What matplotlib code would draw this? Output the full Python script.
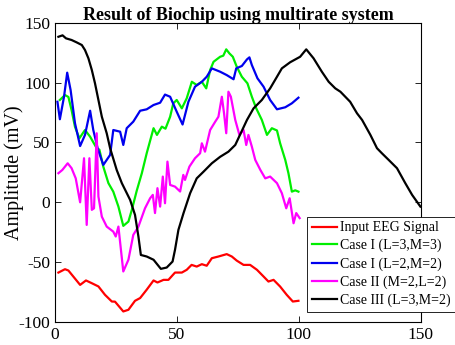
import numpy as np
import matplotlib
matplotlib.use('Agg')
import matplotlib.pyplot as plt

plt.rcParams['font.family'] = ['Liberation Serif', 'DejaVu Serif']
plt.rcParams['axes.unicode_minus'] = False

# values
eeg_x = [1.4, 4.1, 5.5, 10.3, 12.7, 15, 17.8, 20.5, 23.3, 24.6, 28, 30.1, 32.8, 34.9,
         37.6, 40.4, 42, 44.5, 46.5, 49.2, 52, 54, 56, 58.1, 60.2, 62.2, 64.3, 67,
         70.4, 72.5, 74.5, 77.3, 80, 82.8, 85.5, 87.5, 89.6, 92.3, 95, 97.5, 99.8]
eeg_y = [-58.7, -55.9, -57, -69, -65.3, -67.5, -70.3, -77.3, -82.9, -83, -91.2, -89.8,
         -82.3, -80, -73, -65.3, -67, -64.8, -64.8, -58.7, -58.7, -56.4, -52.3, -53.7,
         -51.7, -53, -46.7, -45.3, -43.3, -45.3, -48.7, -52.3, -52.3, -56.4, -62, -66.2,
         -64.8, -70.4, -77.3, -82.9, -82.3]

case1a_x = [2, 4.1, 5.5, 6.8, 8.2, 10, 12.3, 14.4, 17.1, 18.2, 19.8, 21.9, 23.9, 26, 28,
            30.1, 31.5, 33.5, 35.6, 37.6, 40.4, 41.8, 43.8, 45.3, 47.2, 48.5, 49.9, 52,
            54, 56.1, 58.1, 60.2, 62, 63.6, 65, 67.7, 69, 70.2, 71.5, 72.9, 74.5, 76.6,
            78.9, 80.7, 82.5, 84.8, 86.9, 88.9, 91, 92.3, 94.4, 95.7, 97.1, 98.5, 99.8]
case1a_y = [85.5, 89.6, 88, 77, 63, 53.5, 60.4, 54.8, 45.2, 44, 29.8, 16, 8.9, -3.6,
            -19.7, -16.1, -6.3, 9.6, 24.3, 41, 61.9, 56.3, 63.2, 61.5, 71.5, 82.7, 85.5,
            78.5, 86.9, 100.7, 98, 100.7, 95.2, 110.5, 117.4, 121.6, 122.5, 127.8, 124.4,
            121.6, 113.3, 104.9, 99.4, 88.2, 78.5, 68.8, 56.3, 61.9, 60, 49.3, 35.4, 24.3,
            8.9, 10, 8.9]

case1b_x = [1, 2, 3.7, 5, 6.4, 8.2, 10.3, 12.3, 14.4, 15.7, 17.5, 19.8, 22.6, 23.9, 26.7,
            28, 29.4, 32.1, 34.9, 37.6, 40.4, 43.1, 45.1, 47.2, 49.9, 52.3, 54.7, 57.4,
            60.2, 62.2, 64.3, 67.7, 70.4, 73.2, 74.3, 76.6, 78.7, 79.7, 80.7, 83, 85.5,
            88.2, 91, 94.4, 97.1, 99.8]
case1b_y = [84, 69.4, 88.2, 108.3, 93.8, 66, 47, 56.3, 76.5, 60.4, 45, 31.2, 39.6, 60.4,
            59, 47.9, 61.9, 67.4, 76.5, 77.7, 81.3, 83.2, 90, 88.2, 75.7, 65, 84, 96.6,
            100.7, 104.9, 111.9, 109.1, 106.3, 102.8, 111.9, 113.9, 119.4, 121.1, 114.7,
            103.6, 96.6, 85.5, 77.7, 79.4, 82.7, 87.4]

case2_x = [1.4, 3, 5.2, 6.8, 8.5, 10.3, 11.9, 13, 14.1, 15.1, 16, 17.1, 17.8, 19.2, 21.2,
           23.9, 24.9, 26, 28, 30.1, 32.1, 34.2, 36.9, 39, 40.1, 41, 42, 43.1, 44.2, 45.1,
           46.1, 47.2, 49.2, 51.3, 52.6, 53.3, 55.1, 57.4, 59.5, 60.2, 61.5, 63.6, 65.7,
           67, 68.4, 69.3, 70.2, 71.1, 72.1, 73.9, 75.6, 77.3, 78.4, 79.3, 80.7, 82.1,
           84.2, 86.2, 88.2, 91, 93, 94.8, 96.2, 97.8, 98.9, 100.3]
case2_y = [24.3, 27, 32.6, 28.5, 20, 0, 36.8, -18.9, 36.8, -6.3, -5, 57.7, 4.8, -12,
           -20.3, -24.5, -28.6, -20.3, -57.8, -48, -27.2, -20.3, -5, 3.4, 6.2, -9, 11.8,
           -3.6, 21.5, -0.8, 34, 14.5, 13.1, 9, 22.9, 18.7, 29.8, 36.8, 41, 49.3, 42.3,
           60.4, 67.4, 71.5, 88.2, 74.4, 57.7, 92.4, 88.2, 68.8, 56.3, 60.4, 47.9, 56.3,
           46.5, 35.4, 27, 20, 21.5, 16, 7.6, -5, 3.4, -17.5, -9, -13.2]

case3_x = [1.4, 3.1, 4.5, 6.8, 8.9, 11, 12.3, 13.7, 15.1, 16.4, 17.8, 19.2, 21.2, 22.6,
           25.3, 27.4, 30.8, 32.8, 34.2, 35.2, 37.6, 40.4, 43.4, 45.8, 48.2, 49.2, 50.6,
           52.7, 55.4, 58.1, 60.9, 64.3, 67.7, 71.1, 73.9, 75.3, 78.7, 81.4, 84.8, 88.2,
           91, 93, 96.4, 100.5, 103, 106, 109.4, 112.2, 114.9, 117, 121, 123.8, 125.9,
           129.3, 132, 134, 136.8, 140.2, 143.6, 146.4, 149.8]
case3_y = [138.3, 139.5, 137, 135.6, 133.6, 131.4, 127.2, 120.3, 110.5, 99.4, 85.5, 71.5,
           57.7, 45.2, 27, 16, 2, -10.5, -28.6, -44, -45.3, -48, -55.6, -54.5, -49.5,
           -39.7, -23, -9, 7.6, 20, 25.6, 32.6, 38, 42.3, 47.9, 54, 68.8, 78.5, 85.5,
           95.2, 104.9, 111.9, 117, 121.6, 127.8, 120.3, 109.1, 100.7, 95.2, 92.4, 84,
           74.4, 68.8, 56.3, 45.2, 41, 35.4, 28.5, 16, 6.2, -3.6]

labels = ['Input EEG Signal', 'Case I (L=3,M=3)', 'Case I (L=2,M=2)',
          'Case II (M=2,L=2)', 'Case III (L=3,M=2)']
colors = ['#ff0000', '#00ee00', '#0000ee', '#ff00ff', '#000000']

fig = plt.figure(figsize=(4.56, 3.45), dpi=100)
ax = fig.add_axes([0.1206, 0.0667, 0.8024, 0.8673])

series = [(eeg_x, eeg_y), (case1a_x, case1a_y), (case1b_x, case1b_y),
          (case2_x, case2_y), (case3_x, case3_y)]
for (xs, ys), lab, c in zip(series, labels, colors):
    ax.plot(xs, ys, color=c, lw=1.6, label=lab)

ax.set_xlim(0, 150)
ax.set_ylim(-100, 150)
ax.set_xticks([0, 50, 100, 150])
ax.set_yticks([-100, -50, 0, 50, 100, 150])
ax.tick_params(direction='in', top=True, right=True, labelsize=12.5, length=4, width=0.6)
for s in ax.spines.values():
    s.set_linewidth(0.8)
ax.set_ylabel('Amplitude (mV)', fontsize=14.5)
ax.yaxis.set_label_coords(-0.086, 0.5)
ax.set_title('Result of Biochip using multirate system', fontsize=13,
             fontweight='bold', pad=2)

leg = ax.legend(loc='lower right', bbox_to_anchor=(0.998, 0.097),
                bbox_transform=fig.transFigure, fontsize=10, frameon=True,
                fancybox=False, edgecolor='black', framealpha=1,
                handlelength=1.8, handletextpad=0.2, borderpad=0.35,
                labelspacing=0.33, borderaxespad=0)
leg.get_frame().set_linewidth(0.6)

fig.savefig('out.png', dpi=100)
